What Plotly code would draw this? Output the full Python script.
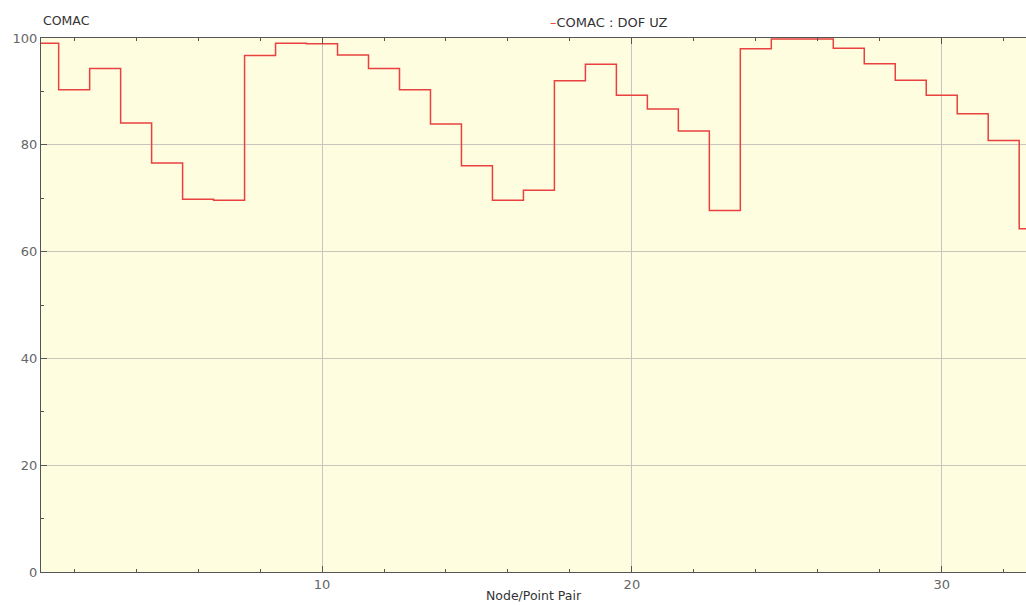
import numpy as np
import plotly.graph_objects as go

# Node/Point Pair index and COMAC values (DOF UZ)
nodes = list(range(1, 34))
comac = [99.0, 90.3, 94.3, 84.1, 76.6, 69.8, 69.6, 96.7, 99.0, 98.9,
         96.8, 94.3, 90.3, 83.9, 76.1, 69.6, 71.5, 92.0, 95.1, 89.3,
         86.7, 82.6, 67.7, 98.0, 99.8, 99.8, 98.1, 95.2, 92.1, 89.3,
         85.8, 80.8, 64.3]
x_ticks = [10, 20, 30]
y_ticks = [0, 20, 40, 60, 80, 100]

# step edges: each node occupies [n-0.5, n+0.5]
x_edges = [n - 0.5 for n in nodes] + [nodes[-1] + 0.5]
y_steps = comac + [comac[-1]]

font = "DejaVu Sans, Verdana, sans-serif"
fig = go.Figure()
fig.add_trace(go.Scatter(
    x=x_edges, y=y_steps, mode="lines", line_shape="hv",
    line=dict(color="#e8413f", width=1.5),
    name="COMAC : DOF UZ", showlegend=False,
))

axis_common = dict(
    showline=True, linecolor="#555555", linewidth=1.2,
    ticks="inside", ticklen=6, tickcolor="#555555",
    gridcolor="#c6c6bc", gridwidth=1, zeroline=False, automargin=False,
    tickfont=dict(family=font, size=13, color="#666666"),
)
fig.update_xaxes(
    range=[0.93, 32.72], tickvals=x_ticks, mirror="ticks",
    minor=dict(dtick=2, tick0=0, ticks="inside", ticklen=3, tickcolor="#555555", showgrid=False),
    title=dict(text="Node/Point Pair", font=dict(family=font, size=12.5, color="#333333"), standoff=0),
    **axis_common,
)
fig.update_yaxes(
    range=[0, 100], tickvals=y_ticks, mirror=False,
    minor=dict(dtick=10, tick0=0, ticks="inside", ticklen=3, tickcolor="#555555", showgrid=False),
    **axis_common,
)
fig.add_annotation(
    xref="paper", yref="paper", x=0, y=1, xanchor="left", yanchor="bottom", yshift=8,
    text="COMAC", showarrow=False, font=dict(family=font, size=12.5, color="#333333"),
)
fig.add_annotation(
    xref="paper", yref="paper", x=0.515, y=1, xanchor="left", yanchor="bottom", yshift=6,
    text="<span style='color:#e8413f'>–</span>COMAC : DOF UZ", showarrow=False,
    font=dict(family=font, size=13, color="#333333"),
)
fig.update_layout(
    width=1026, height=605,
    margin=dict(l=41, r=0, t=38, b=33),
    paper_bgcolor="white", plot_bgcolor="#fffde0",
    font=dict(family=font),
)
fig.write_html(
    "out.html",
    config={"displayModeBar": False},
    post_script="document.body.style.margin='0';document.body.style.overflow='hidden';",
)
